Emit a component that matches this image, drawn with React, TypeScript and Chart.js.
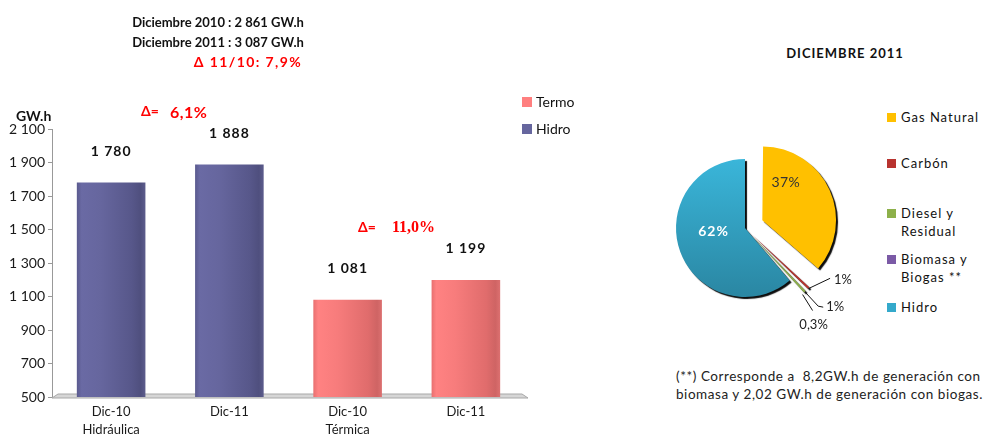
import React, { useEffect, useRef } from 'react';
import { Chart, registerables } from 'chart.js';
Chart.register(...registerables);

// ---------- DATA ----------
const barCategories: string[][] = [['Dic-10', 'Hidráulica'], ['Dic-11'], ['Dic-10', 'Térmica'], ['Dic-11']];
const hidroValues: (number | null)[] = [1780, 1888, null, null];
const termoValues: (number | null)[] = [null, null, 1081, 1199];
const yMin = 500;
const yMax = 2100;
const yStep = 200;

const pieLabels: string[][] = [['Gas Natural'], ['Carbón'], ['Diesel y', 'Residual'], ['Biomasa y', 'Biogas **'], ['Hidro']];
const pieValues: number[] = [37, 1, 1, 0.3, 62];
const pieValueLabels: string[] = ['37%', '1%', '1%', '0,3%', '62%'];
const pieColors: string[] = ['#FFC000', '#B8332F', '#8DB04A', '#7B5AA6', '#34A9CB'];

const titleLines: string[] = ['Diciembre 2010 : 2 861 GW.h', 'Diciembre 2011 : 3 087 GW.h'];
const totalDelta = 'Δ 11/10: 7,9%';
const hidroDelta = '6,1%';
const termoDelta = '11,0%';
const footnote: string[] = ['(**) Corresponde a  8,2GW.h de generación con', 'biomasa y 2,02 GW.h de generación con biogas.'];

const FONT = 'Lato, "Open Sans", sans-serif';
const fmt = (v: number) => String(v).replace(/\B(?=(\d{3})+(?!\d))/g, ' ');

const hidroStops: [number, string][] = [[0, '#5a5a8e'], [0.07, '#6a6aa4'], [0.35, '#66669e'], [0.8, '#57578a'], [0.93, '#4f4f7e'], [1, '#5c5c8c']];
const termoStops: [number, string][] = [[0, '#e87070'], [0.07, '#ff8282'], [0.35, '#f77c7c'], [0.8, '#e06c6c'], [0.93, '#cf6464'], [1, '#dc7070']];

function barGradient(chart: any, index: number, stops: [number, string][]) {
  const xs = chart.scales?.x;
  if (!xs || !chart.chartArea) return stops[1][1];
  const cx = xs.getPixelForValue(index);
  const hw = ((xs.right - xs.left) / barCategories.length) * 0.58 / 2;
  const g = chart.ctx.createLinearGradient(cx - hw, 0, cx + hw, 0);
  stops.forEach(([o, c]) => g.addColorStop(o, c));
  return g;
}

const floorPlugin = {
  id: 'floor',
  beforeDatasetsDraw(chart: any) {
    const { ctx, chartArea: a } = chart;
    ctx.save();
    ctx.beginPath();
    ctx.moveTo(a.left, a.bottom + 1);
    ctx.lineTo(a.right + 3, a.bottom + 1);
    ctx.lineTo(a.right - 3, a.bottom - 3);
    ctx.lineTo(a.left + 6, a.bottom - 3);
    ctx.closePath();
    ctx.fillStyle = '#d6d6d6';
    ctx.fill();
    ctx.strokeStyle = '#a8a8a8';
    ctx.lineWidth = 1;
    ctx.stroke();
    ctx.restore();
  },
};

const barLabelPlugin = {
  id: 'barLabels',
  afterDatasetsDraw(chart: any) {
    const { ctx } = chart;
    ctx.save();
    ctx.font = `bold 14px ${FONT}`;
    (ctx as any).letterSpacing = '1px';
    ctx.fillStyle = '#111';
    ctx.textAlign = 'center';
    ctx.textBaseline = 'middle';
    chart.data.datasets.forEach((ds: any, di: number) => {
      const meta = chart.getDatasetMeta(di);
      meta.data.forEach((el: any, i: number) => {
        const v = ds.data[i];
        if (v == null) return;
        ctx.fillText(fmt(v), el.x, el.y - 31);
      });
    });
    ctx.restore();
  },
};

const pieDrawPlugin = {
  id: 'pieDraw',
  beforeDatasetsDraw(chart: any) {
    const ctx = chart.ctx;
    ctx.save();
    ctx.shadowColor = 'rgba(0,0,0,0.95)';
    ctx.shadowOffsetX = 2;
    ctx.shadowOffsetY = 2;
    ctx.shadowBlur = 1;
  },
  afterDatasetsDraw(chart: any) {
    const ctx = chart.ctx;
    ctx.restore();
    const meta = chart.getDatasetMeta(0);
    ctx.save();
    ctx.textBaseline = 'middle';
    meta.data.forEach((arc: any, i: number) => {
      const { x, y, startAngle, endAngle, outerRadius } = arc;
      const mid = (startAngle + endAngle) / 2;
      const shift = (arc.options.offset || 0) / 4;
      const vx = x + Math.cos(mid) * shift;
      const vy = y + Math.sin(mid) * shift;
      const label = pieValueLabels[i];
      if (i === 0) {
        const a = startAngle + 0.245 * (endAngle - startAngle);
        ctx.font = `14px ${FONT}`;
        (ctx as any).letterSpacing = '0.5px';
        ctx.fillStyle = '#333';
        ctx.textAlign = 'center';
        ctx.fillText(label, vx + Math.cos(a) * outerRadius * 0.64, vy + Math.sin(a) * outerRadius * 0.64);
      } else if (i === 4) {
        const a = startAngle + 0.56 * (endAngle - startAngle);
        ctx.font = `bold 14px ${FONT}`;
        (ctx as any).letterSpacing = '1px';
        ctx.fillStyle = '#ffffff';
        ctx.textAlign = 'center';
        ctx.fillText(label, vx + Math.cos(a) * outerRadius * 0.46, vy + Math.sin(a) * outerRadius * 0.46);
      } else {
        const tr = outerRadius + shift;
        const tx = vx + Math.cos(mid) * tr;
        const ty = vy + Math.sin(mid) * tr;
        ctx.strokeStyle = '#111';
        ctx.lineWidth = 1;
        ctx.font = `13px ${FONT}`;
        (ctx as any).letterSpacing = '0px';
        ctx.fillStyle = '#222';
        ctx.beginPath();
        ctx.moveTo(tx, ty);
        if (i === 1) {
          ctx.lineTo(tx + 21, ty - 10);
          ctx.stroke();
          ctx.textAlign = 'left';
          ctx.fillText(label, tx + 25, ty - 9);
        } else if (i === 2) {
          ctx.lineTo(tx + 13, ty + 14);
          ctx.lineTo(tx + 18, ty + 15);
          ctx.stroke();
          ctx.textAlign = 'left';
          ctx.fillText(label, tx + 21, ty + 15);
        } else {
          ctx.lineTo(tx + 10, ty + 16);
          ctx.stroke();
          ctx.textAlign = 'center';
          ctx.fillText(label, tx + 11, ty + 30);
        }
      }
    });
    ctx.restore();
  },
};

function Txt(props: { x: number; y: number; align?: 'left' | 'center'; size?: number; bold?: boolean; color?: string; ls?: number; family?: string; children: React.ReactNode }) {
  const { x, y, align = 'left', size = 13, bold = false, color = '#111', ls = 0, family = FONT, children } = props;
  const lh = size + 6;
  return (
    <div
      style={{
        position: 'absolute',
        left: x,
        top: y - lh / 2,
        lineHeight: `${lh}px`,
        height: lh,
        fontSize: size,
        fontFamily: family,
        fontWeight: bold ? 700 : 400,
        color,
        letterSpacing: ls,
        whiteSpace: 'pre',
        transform: align === 'center' ? 'translateX(-50%)' : undefined,
      }}
    >
      {children}
    </div>
  );
}

function Swatch({ x, y, color, size = 10 }: { x: number; y: number; color: string; size?: number }) {
  return <div style={{ position: 'absolute', left: x, top: y - size / 2, width: size, height: size, background: color }} />;
}

export default function App() {
  const barRef = useRef<HTMLCanvasElement>(null);
  const pieRef = useRef<HTMLCanvasElement>(null);

  useEffect(() => {
    const bar = new Chart(barRef.current!, {
      type: 'bar',
      data: {
        labels: barCategories as any,
        datasets: [
          {
            label: 'Hidro',
            data: hidroValues,
            backgroundColor: (c: any) => barGradient(c.chart, c.dataIndex, hidroStops),
            borderWidth: 0,
            skipNull: true,
            categoryPercentage: 1,
            barPercentage: 0.58,
          } as any,
          {
            label: 'Termo',
            data: termoValues,
            backgroundColor: (c: any) => barGradient(c.chart, c.dataIndex, termoStops),
            borderWidth: 0,
            skipNull: true,
            categoryPercentage: 1,
            barPercentage: 0.58,
          } as any,
        ],
      },
      options: {
        responsive: false,
        animation: false,
        layout: { padding: { left: 0, top: 129, right: 35, bottom: 0 } },
        plugins: { legend: { display: false }, tooltip: { enabled: false } },
        scales: {
          x: {
            grid: { display: false, drawTicks: false },
            border: { display: false },
            ticks: { font: { family: FONT, size: 13, lineHeight: 1.45 }, color: '#1a1a1a', padding: 5, maxRotation: 0, autoSkip: false },
            afterFit: (s: any) => { s.height = 40; },
          },
          y: {
            min: yMin,
            max: yMax,
            ticks: { stepSize: yStep, callback: (v: any) => fmt(Number(v)), font: { family: FONT, size: 14 }, color: '#1a1a1a', padding: 3 },
            grid: { drawOnChartArea: false, tickLength: 4, color: '#999' },
            border: { display: true, color: '#999' },
            afterFit: (s: any) => { s.width = 52; },
          },
        },
      } as any,
      plugins: [floorPlugin, barLabelPlugin],
    });

    const pie = new Chart(pieRef.current!, {
      type: 'pie',
      data: {
        labels: pieLabels.map((l) => l.join(' ')),
        datasets: [
          {
            data: pieValues,
            backgroundColor: (c: any) => {
              const i = c.dataIndex;
              const ch = c.chart;
              if (i === 4 && ch.chartArea) {
                const cy = (ch.chartArea.top + ch.chartArea.bottom) / 2;
                const g = ch.ctx.createLinearGradient(0, cy - 70, 0, cy + 70);
                g.addColorStop(0, '#3ab6da');
                g.addColorStop(1, '#2a86a2');
                return g;
              }
              return pieColors[i];
            },
            borderWidth: 0,
            offset: [76, 38, 38, 38, 0],
          } as any,
        ],
      },
      options: {
        responsive: false,
        animation: false,
        radius: 69,
        layout: { padding: { left: 0, top: 0, right: 30, bottom: 4 } },
        plugins: { legend: { display: false }, tooltip: { enabled: false } },
      } as any,
      plugins: [pieDrawPlugin],
    });

    return () => {
      bar.destroy();
      pie.destroy();
    };
  }, []);

  const pieLegendY = [117, 163, 213, 259, 307];

  return (
    <div style={{ position: 'absolute', left: 0, top: 0, width: 986, height: 437, background: '#fff', overflow: 'hidden' }}>
      <canvas ref={barRef} width={560} height={437} style={{ position: 'absolute', left: 0, top: 0, width: 560, height: 437 }} />
      <canvas ref={pieRef} width={240} height={220} style={{ position: 'absolute', left: 640, top: 120, width: 240, height: 220 }} />

      <Txt x={218} y={22} align="center" bold size={13} ls={0}>{titleLines[0]}</Txt>
      <Txt x={218} y={42} align="center" bold size={13} ls={0}>{titleLines[1]}</Txt>
      <Txt x={248} y={62} align="center" bold size={14} ls={1.4} color="#ff0000">{totalDelta}</Txt>

      <Txt x={16} y={116} bold size={14}>GW.h</Txt>

      <Txt x={141} y={111} bold size={14} color="#ff0000">Δ=</Txt>
      <Txt x={170} y={112} bold size={16} color="#ff0000" ls={0.5}>{hidroDelta}</Txt>
      <Txt x={358} y={227} bold size={14} color="#ff0000">Δ=</Txt>
      <Txt x={392} y={227} bold size={16} color="#ff0000" family='"Liberation Serif", serif'>{termoDelta}</Txt>

      <Swatch x={522} y={102} color="#ff7f7f" />
      <Txt x={536} y={102} size={14}>Termo</Txt>
      <Swatch x={522} y={129} color="#66669e" />
      <Txt x={536} y={129} size={14}>Hidro</Txt>

      <Txt x={845} y={53} align="center" bold size={13} ls={1}>DICIEMBRE 2011</Txt>
      {pieLabels.map((lines, i) => (
        <React.Fragment key={i}>
          <Swatch x={887} y={pieLegendY[i]} color={pieColors[i]} size={9} />
          {lines.map((l, j) => (
            <Txt key={j} x={901} y={pieLegendY[i] + j * 18} size={13} ls={1}>{l}</Txt>
          ))}
        </React.Fragment>
      ))}

      <Txt x={676} y={377} size={13.5} ls={0.55} color="#222">{footnote[0]}</Txt>
      <Txt x={676} y={395} size={13.5} ls={0.55} color="#222">{footnote[1]}</Txt>
    </div>
  );
}
